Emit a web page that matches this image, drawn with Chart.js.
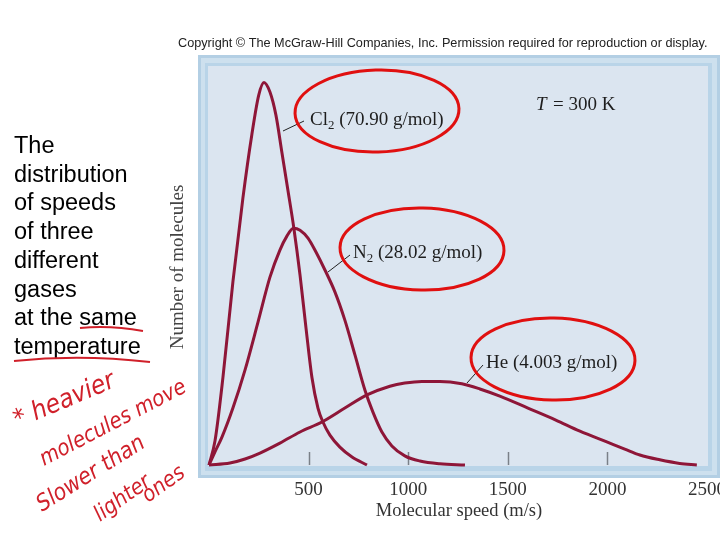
<!DOCTYPE html>
<html lang="en">
<head>
  <meta charset="UTF-8">
  <title>Distribution of molecular speeds</title>
  <script src="https://cdn.jsdelivr.net/npm/chart.js"></script>
  <style>
    html, body { margin: 0; padding: 0; background: #fff; }
    canvas { display: block; }
  </style>
</head>
<body>
  <canvas id="speedChart" width="720" height="540"></canvas>

  <script>
    // values (speed in m/s, molecules in % of plot height)
    const cl2Speed = [0, 30, 70, 120, 170, 215, 250, 276, 306, 336, 366, 396, 426, 457, 487, 517, 547, 572, 607, 657, 718, 793];
    const cl2Count = [0, 6.0, 22.0, 46.0, 67.0, 83.0, 93.0, 96.1, 93.7, 87.9, 78.5, 69.1, 59.5, 47.7, 34.4, 21.9, 14.3, 10.8, 7.5, 4.5, 2.0, 0];

    const n2Speed = [0, 30, 65, 120, 181, 246, 306, 356, 391, 424, 457, 497, 537, 582, 632, 682, 733, 783, 823, 868, 918, 983, 1059, 1159, 1285];
    const n2Count = [0, 3.3, 7.0, 14.3, 23.9, 35.9, 47.2, 54.0, 57.5, 59.5, 59.0, 57.0, 53.5, 49.0, 43.5, 36.4, 27.6, 18.8, 13.3, 8.3, 4.8, 2.3, 1.0, 0.3, 0];

    const heSpeed = [0, 105, 181, 256, 356, 457, 567, 682, 793, 908, 983, 1069, 1159, 1269, 1360, 1460, 1601, 1741, 1862, 1997, 2087, 2163, 2263, 2363, 2449];
    const heCount = [0, 0.5, 1.5, 3.0, 5.5, 8.3, 10.8, 14.3, 17.6, 19.8, 20.6, 21.0, 21.0, 20.4, 19.1, 17.3, 14.3, 11.3, 8.5, 5.8, 4.0, 2.5, 1.3, 0.4, 0];

    const speedTicks = [500, 1000, 1500, 2000, 2500];
    const tickMarks = [500, 1000, 1500, 2000];

    const introLines = ["The", "distribution", "of speeds", "of three", "different", "gases", "at the same", "temperature"];

    const curveColor = '#8e1638';
    const serif = "'Liberation Serif', 'Times New Roman', serif";
    const sans = "'Liberation Sans', Arial, sans-serif";

    function toPoints(xs, ys) {
      return xs.map((x, i) => ({ x: x, y: ys[i] }));
    }

    // text with a subscript piece, e.g. Cl + 2
    function drawParts(ctx, parts, x, y, size) {
      let cx = x;
      parts.forEach(([txt, sub]) => {
        ctx.font = (sub ? size * 0.68 : size) + 'px ' + serif;
        ctx.fillText(txt, cx, sub ? y + size * 0.22 : y);
        cx += ctx.measureText(txt).width;
      });
    }

    function redEllipse(ctx, cx, cy, rx, ry, rot) {
      ctx.save();
      ctx.strokeStyle = '#e01010';
      ctx.lineWidth = 3;
      ctx.beginPath();
      ctx.ellipse(cx, cy, rx, ry, rot, 0, Math.PI * 2);
      ctx.stroke();
      ctx.restore();
    }

    function leader(ctx, x1, y1, x2, y2) {
      ctx.save();
      ctx.strokeStyle = '#222';
      ctx.lineWidth = 1;
      ctx.beginPath();
      ctx.moveTo(x1, y1);
      ctx.lineTo(x2, y2);
      ctx.stroke();
      ctx.restore();
    }

    const figurePlugin = {
      id: 'figure',
      beforeDraw(chart) {
        const ctx = chart.ctx;
        const a = chart.chartArea;
        ctx.save();
        ctx.fillStyle = '#fff';
        ctx.fillRect(0, 0, chart.width, chart.height);

        // light blue frame round the plot
        ctx.fillStyle = '#b3cfe4';
        ctx.fillRect(198, 55, 522, 423);
        ctx.fillStyle = '#cde0ee';
        ctx.fillRect(201, 58, 516, 417);
        ctx.fillStyle = '#b9d4e8';
        ctx.fillRect(205, 63, 507, 408);
        ctx.fillStyle = '#dbe5f0';
        ctx.fillRect(a.left - 1, a.top - 1, a.right - a.left + 2, a.bottom - a.top + 2);

        // tick marks inside the plot
        const xs = chart.scales.x;
        ctx.strokeStyle = '#7a8088';
        ctx.lineWidth = 1.5;
        tickMarks.forEach(v => {
          const px = Math.round(xs.getPixelForValue(v)) + 0.5;
          ctx.beginPath();
          ctx.moveTo(px, a.bottom);
          ctx.lineTo(px, a.bottom - 13);
          ctx.stroke();
        });
        ctx.restore();
      },
      afterDraw(chart) {
        const ctx = chart.ctx;
        const xs = chart.scales.x;
        ctx.save();

        // copyright line
        ctx.fillStyle = '#222';
        ctx.font = '12.7px ' + sans;
        ctx.textBaseline = 'alphabetic';
        ctx.fillText('Copyright \u00a9 The McGraw-Hill Companies, Inc. Permission required for reproduction or display.', 178, 47);

        // x tick labels and axis title
        ctx.fillStyle = '#333';
        ctx.font = '19px ' + serif;
        ctx.textAlign = 'center';
        speedTicks.forEach(v => {
          ctx.fillText(String(v), xs.getPixelForValue(v), 495);
        });
        ctx.font = '18.5px ' + serif;
        ctx.fillText('Molecular speed (m/s)', 459, 516);

        // y axis title
        ctx.save();
        ctx.translate(183, 267);
        ctx.rotate(-Math.PI / 2);
        ctx.fillStyle = '#444';
        ctx.font = '19px ' + serif;
        ctx.fillText('Number of molecules', 0, 0);
        ctx.restore();

        // curve labels
        ctx.textAlign = 'left';
        ctx.fillStyle = '#1e1e1e';
        drawParts(ctx, [['Cl', 0], ['2', 1], [' (70.90 g/mol)', 0]], 310, 125, 19);
        drawParts(ctx, [['N', 0], ['2', 1], [' (28.02 g/mol)', 0]], 353, 258, 19);
        drawParts(ctx, [['He (4.003 g/mol)', 0]], 486, 368, 19);
        leader(ctx, 283, 131, 304, 121);
        leader(ctx, 328, 272, 350, 255);
        leader(ctx, 467, 383, 483, 365);

        // T = 300 K
        ctx.font = 'italic 19px ' + serif;
        ctx.fillText('T', 536, 110);
        ctx.font = '19px ' + serif;
        ctx.fillText('= 300 K', 553, 110);

        // red hand-drawn circles
        redEllipse(ctx, 377, 111, 82, 41, -0.03);
        redEllipse(ctx, 422, 249, 82, 41, 0.02);
        redEllipse(ctx, 553, 359, 82, 41, 0.02);

        // left text block
        ctx.fillStyle = '#000';
        ctx.font = '23.5px ' + sans;
        introLines.forEach((t, i) => {
          ctx.fillText(t, 14, 153 + i * 28.7);
        });

        // red underlines
        ctx.strokeStyle = '#d0202a';
        ctx.lineWidth = 2;
        ctx.beginPath();
        ctx.moveTo(80, 328);
        ctx.quadraticCurveTo(110, 325, 143, 331);
        ctx.stroke();
        ctx.beginPath();
        ctx.moveTo(14, 361);
        ctx.quadraticCurveTo(80, 354, 150, 362);
        ctx.stroke();

        // handwritten note
        const hand = [
          ['* heavier', 18, 428, -0.4, 26],
          ['molecules move', 44, 466, -0.48, 22],
          ['Slower than', 42, 512, -0.56, 23],
          ['lighter', 100, 522, -0.62, 22],
          ['ones', 148, 503, -0.62, 22]
        ];
        ctx.fillStyle = '#d0202a';
        hand.forEach(([t, x, y, ang, size]) => {
          ctx.save();
          ctx.translate(x, y);
          ctx.rotate(ang);
          ctx.font = 'italic ' + size + "px 'Liberation Sans Narrow', 'DejaVu Sans Condensed', sans-serif";
          ctx.fillText(t, 0, 0);
          ctx.restore();
        });

        ctx.restore();
      }
    };

    const lineStyle = {
      borderColor: curveColor,
      backgroundColor: curveColor,
      borderWidth: 3,
      pointRadius: 0,
      fill: false,
      cubicInterpolationMode: 'monotone',
      clip: 4
    };

    const ctx = document.getElementById('speedChart').getContext('2d');
    new Chart(ctx, {
      type: 'line',
      data: {
        datasets: [
          { label: 'Cl2', data: toPoints(cl2Speed, cl2Count), ...lineStyle },
          { label: 'N2', data: toPoints(n2Speed, n2Count), ...lineStyle },
          { label: 'He', data: toPoints(heSpeed, heCount), ...lineStyle }
        ]
      },
      options: {
        responsive: false,
        animation: false,
        devicePixelRatio: 1,
        layout: { padding: { left: 209, right: 13, top: 67, bottom: 75 } },
        scales: {
          x: { type: 'linear', min: 0, max: 2500, display: false },
          y: { min: 0, max: 100, display: false }
        },
        plugins: {
          legend: { display: false },
          tooltip: { enabled: false }
        }
      },
      plugins: [figurePlugin]
    });
  </script>
</body>
</html>
